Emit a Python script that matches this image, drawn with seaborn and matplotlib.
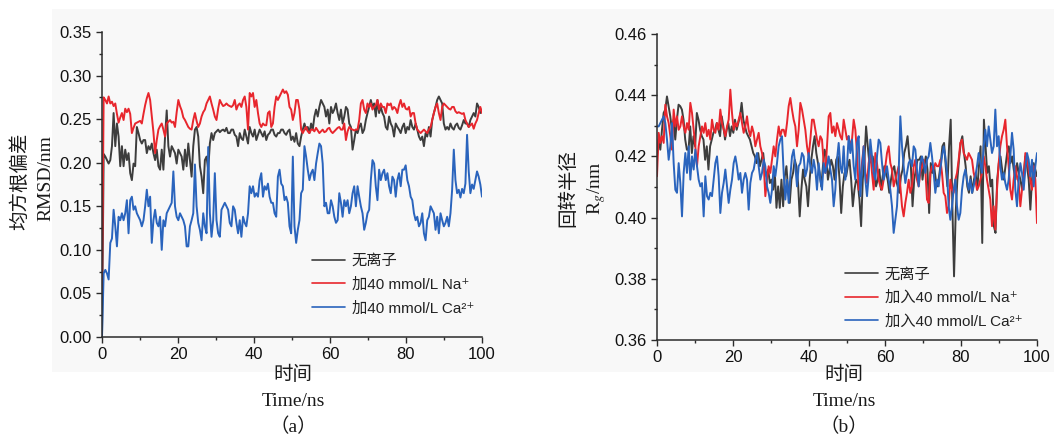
import numpy as np
import pandas as pd
import matplotlib
matplotlib.use("Agg")
import matplotlib.pyplot as plt
import seaborn as sns
from matplotlib.patches import Rectangle
from matplotlib.ticker import MultipleLocator, FormatStrFormatter

sns.set_style("ticks")
plt.rcParams["font.family"] = ["Liberation Sans", "DejaVu Sans", "Noto Sans CJK SC"]
plt.rcParams["mathtext.fontset"] = "stix"

# ---------------------------------------------------------------- data
labels_a = ["无离子", "加40 mmol/L Na⁺", "加40 mmol/L Ca²⁺"]
labels_b = ["无离子", "加入40 mmol/L Na⁺", "加入40 mmol/L Ca²⁺"]
line_colors = ["#3d3d3d", "#e8262d", "#2a64bd"]

x_ticks = [0, 20, 40, 60, 80, 100]

# RMSD (nm), sampled evenly over 0-100 ns
rmsd_none = [
    0.000,
    0.210, 0.207, 0.203, 0.199, 0.203, 0.219, 0.257, 0.219, 0.245, 0.230,
    0.196, 0.219, 0.196, 0.215, 0.203, 0.211, 0.188, 0.180, 0.199, 0.196,
    0.241, 0.234, 0.226, 0.222, 0.226, 0.226, 0.211, 0.219, 0.215, 0.222,
    0.211, 0.203, 0.215, 0.196, 0.192, 0.215, 0.192, 0.230, 0.260, 0.219,
    0.207, 0.219, 0.215, 0.211, 0.199, 0.215, 0.211, 0.207, 0.192, 0.215,
    0.196, 0.222, 0.203, 0.184, 0.219, 0.238, 0.241, 0.230, 0.196, 0.184,
    0.165, 0.203, 0.207, 0.192, 0.222, 0.234, 0.226, 0.234, 0.236, 0.238,
    0.235, 0.237, 0.238, 0.236, 0.240,
    0.234, 0.234, 0.238, 0.238, 0.232, 0.230, 0.219, 0.234, 0.228, 0.226,
    0.238, 0.230, 0.222, 0.241, 0.234, 0.230, 0.238, 0.226, 0.232, 0.238,
    0.234, 0.230, 0.236, 0.226, 0.232, 0.234, 0.238, 0.238, 0.232, 0.230,
    0.234, 0.234, 0.238, 0.238, 0.234, 0.232, 0.236, 0.238, 0.226, 0.230,
    0.224, 0.234, 0.222, 0.219, 0.230, 0.238, 0.245, 0.238, 0.241, 0.234,
    0.245, 0.238, 0.253, 0.261, 0.253, 0.264, 0.272, 0.268, 0.264, 0.253,
    0.261, 0.245, 0.264, 0.257, 0.261, 0.268, 0.257, 0.249, 0.261, 0.245,
    0.253, 0.264, 0.261, 0.245, 0.241, 0.215, 0.226,
    0.238, 0.234, 0.241, 0.245, 0.234, 0.238, 0.249, 0.257, 0.264, 0.272,
    0.264, 0.268, 0.253, 0.272, 0.257, 0.264, 0.257, 0.253, 0.241, 0.238,
    0.253, 0.245, 0.241, 0.230, 0.245, 0.241, 0.238, 0.234, 0.241, 0.245,
    0.234, 0.241, 0.238, 0.249, 0.241, 0.238, 0.245, 0.238, 0.230, 0.226,
    0.230, 0.219, 0.234, 0.230, 0.241, 0.230, 0.249, 0.257, 0.264, 0.272,
    0.276, 0.272, 0.268, 0.245, 0.238, 0.241, 0.238, 0.245, 0.240, 0.238,
    0.243, 0.245, 0.240, 0.238, 0.243, 0.249, 0.245, 0.245, 0.241, 0.249,
    0.253, 0.257, 0.253, 0.268, 0.264, 0.257, 0.261,
]

rmsd_na = [
    0.050,
    0.275, 0.272, 0.268, 0.276, 0.268, 0.270, 0.265, 0.268, 0.256, 0.246,
    0.252, 0.257, 0.249, 0.262, 0.258, 0.262, 0.256, 0.234, 0.240, 0.245,
    0.246, 0.247, 0.248, 0.245, 0.256, 0.266, 0.274, 0.280, 0.272, 0.253,
    0.235, 0.211, 0.226, 0.238, 0.242, 0.245, 0.238, 0.230, 0.245, 0.247,
    0.249, 0.246, 0.247, 0.241, 0.258, 0.272, 0.265, 0.260, 0.252, 0.249,
    0.245, 0.241, 0.239, 0.238, 0.249, 0.257, 0.248, 0.241, 0.245, 0.253,
    0.258, 0.261, 0.268, 0.272, 0.276, 0.268, 0.261, 0.253, 0.249, 0.262,
    0.272, 0.268, 0.265, 0.266, 0.268,
    0.266, 0.265, 0.264, 0.266, 0.272, 0.261, 0.266, 0.268, 0.264, 0.272,
    0.276, 0.264, 0.238, 0.280, 0.276, 0.280, 0.264, 0.272, 0.257, 0.245,
    0.241, 0.245, 0.243, 0.243, 0.257, 0.259, 0.241, 0.245, 0.264, 0.276,
    0.272, 0.276, 0.280, 0.284, 0.280, 0.282, 0.278, 0.264, 0.261, 0.249,
    0.257, 0.272, 0.272, 0.261, 0.238, 0.234, 0.238, 0.241, 0.236, 0.234,
    0.238, 0.238, 0.236, 0.240, 0.237, 0.234, 0.236, 0.238, 0.235, 0.236,
    0.239, 0.240, 0.236, 0.234, 0.236, 0.238, 0.240, 0.241, 0.238, 0.238,
    0.245, 0.226, 0.236, 0.241, 0.239, 0.238, 0.237,
    0.238, 0.238, 0.249, 0.268, 0.272, 0.261, 0.257, 0.268, 0.264, 0.268,
    0.261, 0.264, 0.266, 0.272, 0.261, 0.268, 0.264, 0.264, 0.257, 0.268,
    0.266, 0.268, 0.261, 0.264, 0.262, 0.257, 0.266, 0.272, 0.264, 0.268,
    0.262, 0.261, 0.264, 0.253, 0.257, 0.257, 0.245, 0.238, 0.236, 0.234,
    0.236, 0.238, 0.236, 0.234, 0.238, 0.241, 0.249, 0.257, 0.264, 0.268,
    0.257, 0.249, 0.264, 0.268, 0.266, 0.264, 0.262, 0.261, 0.264, 0.264,
    0.259, 0.257, 0.258, 0.257, 0.256, 0.257, 0.249, 0.245, 0.241, 0.243,
    0.245, 0.239, 0.245, 0.249, 0.257, 0.264, 0.257,
]

rmsd_ca = [
    0.000,
    0.073, 0.077, 0.073, 0.066, 0.108, 0.113, 0.146, 0.127, 0.104, 0.138,
    0.134, 0.142, 0.134, 0.142, 0.157, 0.119, 0.157, 0.161, 0.146, 0.150,
    0.142, 0.138, 0.134, 0.127, 0.134, 0.150, 0.169, 0.150, 0.161, 0.108,
    0.134, 0.146, 0.131, 0.127, 0.138, 0.100, 0.134, 0.127, 0.142, 0.146,
    0.150, 0.154, 0.190, 0.150, 0.138, 0.134, 0.142, 0.138, 0.134, 0.127,
    0.104, 0.104, 0.127, 0.134, 0.142, 0.198, 0.150, 0.131, 0.123, 0.111,
    0.142, 0.127, 0.119, 0.218, 0.142, 0.115, 0.134, 0.188, 0.134, 0.119,
    0.115, 0.146, 0.150, 0.154, 0.150,
    0.146, 0.131, 0.127, 0.150, 0.146, 0.131, 0.119, 0.134, 0.115, 0.138,
    0.131, 0.127, 0.142, 0.173, 0.165, 0.173, 0.161, 0.165, 0.161, 0.180,
    0.188, 0.161, 0.173, 0.169, 0.176, 0.161, 0.154, 0.154, 0.142, 0.138,
    0.184, 0.192, 0.176, 0.173, 0.157, 0.161, 0.154, 0.127, 0.119, 0.207,
    0.127, 0.108, 0.123, 0.134, 0.165, 0.169, 0.219, 0.207, 0.192, 0.180,
    0.188, 0.192, 0.180, 0.199, 0.211, 0.222, 0.219, 0.199, 0.150, 0.154,
    0.142, 0.142, 0.157, 0.150, 0.138, 0.131, 0.134, 0.165, 0.154, 0.138,
    0.157, 0.150, 0.157, 0.142, 0.150, 0.165, 0.173,
    0.150, 0.173, 0.161, 0.150, 0.142, 0.123, 0.131, 0.142, 0.146, 0.180,
    0.203, 0.199, 0.173, 0.157, 0.192, 0.180, 0.188, 0.192, 0.180, 0.188,
    0.173, 0.165, 0.184, 0.180, 0.161, 0.180, 0.188, 0.173, 0.192, 0.192,
    0.197, 0.180, 0.173, 0.161, 0.157, 0.142, 0.134, 0.138, 0.127, 0.131,
    0.142, 0.119, 0.111, 0.134, 0.138, 0.150, 0.146, 0.142, 0.123, 0.138,
    0.119, 0.142, 0.134, 0.127, 0.131, 0.138, 0.127, 0.142, 0.169, 0.215,
    0.180, 0.165, 0.169, 0.160, 0.170, 0.165, 0.176, 0.232, 0.190, 0.165,
    0.175, 0.170, 0.180, 0.190, 0.184, 0.175, 0.161,
]

# Radius of gyration (nm), sampled evenly over 0-100 ns
rg_none = [
    0.4200, 0.4255, 0.4222, 0.4287, 0.4342, 0.4353, 0.4396, 0.4364, 0.4331, 0.4287,
    0.4320, 0.4255, 0.4320, 0.4369, 0.4364, 0.4353, 0.4320, 0.4255, 0.4222, 0.4222,
    0.4298, 0.4211, 0.4266, 0.4233, 0.4342, 0.4320, 0.4287, 0.4266, 0.4255, 0.4189,
    0.4233, 0.4157, 0.4233, 0.4255, 0.4277, 0.4287, 0.4309, 0.4287, 0.4266, 0.4331,
    0.4298, 0.4255, 0.4287, 0.4309, 0.4266, 0.4298, 0.4277, 0.4320, 0.4287, 0.4309,
    0.4331, 0.4375, 0.4320, 0.4298, 0.4277, 0.4266, 0.4255, 0.4233, 0.4211, 0.4200,
    0.4178, 0.4211, 0.4168, 0.4189, 0.4211, 0.4157, 0.4135, 0.4157, 0.4113, 0.4124,
    0.4091, 0.4146, 0.4032, 0.4102, 0.4032, 0.4124,
    0.4037, 0.4135, 0.4168, 0.4091, 0.4048, 0.4124, 0.4146, 0.4189, 0.4168, 0.4113,
    0.4004, 0.4091, 0.4157, 0.4124, 0.4102, 0.4037, 0.4124, 0.4189, 0.4233, 0.4266,
    0.4211, 0.4178, 0.4146, 0.4102, 0.4168, 0.4222, 0.4200, 0.4124, 0.4157, 0.4189,
    0.4168, 0.4124, 0.4189, 0.4200, 0.4124, 0.4015, 0.4102, 0.4146, 0.4135, 0.4168,
    0.4189, 0.4124, 0.4037, 0.4091, 0.4124, 0.4113, 0.4059, 0.3972, 0.4124, 0.4189,
    0.4298, 0.4233, 0.4178, 0.4189, 0.4200, 0.4157, 0.4102, 0.4124, 0.4157, 0.4091,
    0.4135, 0.4168, 0.4146, 0.4124, 0.4081, 0.4124, 0.4157, 0.4168, 0.4124, 0.4102,
    0.4081, 0.4135, 0.4157, 0.4211, 0.4233, 0.4266, 0.4200, 0.4168,
    0.4037, 0.4124, 0.4157, 0.4189, 0.4189, 0.4200, 0.4124, 0.4168, 0.4200, 0.4157,
    0.4015, 0.4178, 0.4146, 0.4168, 0.4124, 0.4102, 0.4135, 0.4178, 0.4233, 0.4244,
    0.4168, 0.4102, 0.4233, 0.4320, 0.4037, 0.3808, 0.4015, 0.4124, 0.4189, 0.4244,
    0.4266, 0.4211, 0.4168, 0.4102, 0.4081, 0.4135, 0.4081, 0.4124, 0.4146, 0.4091,
    0.4168, 0.4233, 0.3917, 0.4320, 0.4233, 0.4146, 0.4168, 0.4102, 0.4124, 0.3972,
    0.3950, 0.4124, 0.4178, 0.4200, 0.4157, 0.4124, 0.4168, 0.4211, 0.4233, 0.4178,
    0.4200, 0.4157, 0.4124, 0.4178, 0.4146, 0.4124, 0.4091, 0.4146, 0.4200, 0.4168,
    0.4124, 0.4026, 0.4124, 0.4178, 0.4157, 0.4135,
]

rg_na = [
    0.4135, 0.4277, 0.4244, 0.4266, 0.4244, 0.4369, 0.4331, 0.4309, 0.4266, 0.4222,
    0.4353, 0.4298, 0.4331, 0.4287, 0.4298, 0.4331, 0.4298, 0.4277, 0.4309, 0.4287,
    0.4375, 0.4342, 0.4287, 0.4233, 0.4168, 0.4233, 0.4266, 0.4298, 0.4277, 0.4309,
    0.4266, 0.4287, 0.4255, 0.4320, 0.4287, 0.4277, 0.4309, 0.4287, 0.4353, 0.4309,
    0.4287, 0.4266, 0.4298, 0.4320, 0.4418, 0.4342, 0.4287, 0.4309, 0.4298, 0.4320,
    0.4342, 0.4309, 0.4277, 0.4298, 0.4331, 0.4287, 0.4266, 0.4298, 0.4277, 0.4233,
    0.4255, 0.4277, 0.4233, 0.4211, 0.4178, 0.4070, 0.4124, 0.4168, 0.4146, 0.4189,
    0.4233, 0.4200, 0.4255, 0.4298, 0.4266, 0.4287,
    0.4287, 0.4266, 0.4309, 0.4364, 0.4391, 0.4353, 0.4320, 0.4298, 0.4233, 0.4287,
    0.4375, 0.4353, 0.4320, 0.4287, 0.4233, 0.4200, 0.4255, 0.4320, 0.4320, 0.4287,
    0.4255, 0.4233, 0.4266, 0.4255, 0.4178, 0.4146, 0.4233, 0.4331, 0.4342, 0.4277,
    0.4298, 0.4266, 0.4309, 0.4287, 0.4266, 0.4255, 0.4320, 0.4287, 0.4255, 0.4266,
    0.4233, 0.4255, 0.4320, 0.4287, 0.4211, 0.4091, 0.4124, 0.4178, 0.4233, 0.4146,
    0.4113, 0.4178, 0.4211, 0.4146, 0.4091, 0.4211, 0.4178, 0.4124, 0.4102, 0.4091,
    0.4124, 0.4168, 0.4211, 0.4233, 0.4178, 0.4157, 0.4102, 0.4124, 0.4146, 0.4168,
    0.4102, 0.4037, 0.4004, 0.4048, 0.4081, 0.4124, 0.4081, 0.4102,
    0.4168, 0.4189, 0.4124, 0.4102, 0.4146, 0.4168, 0.4189, 0.4157, 0.4059, 0.4048,
    0.4146, 0.4168, 0.4157, 0.4178, 0.4168, 0.4168, 0.4189, 0.4146, 0.4081, 0.4070,
    0.4015, 0.4037, 0.4124, 0.4091, 0.4081, 0.4124, 0.4146, 0.4189, 0.4244, 0.4255,
    0.4211, 0.4200, 0.4189, 0.4211, 0.4200, 0.4189, 0.4146, 0.4124, 0.4091, 0.4102,
    0.4124, 0.4146, 0.4200, 0.4168, 0.4124, 0.4091, 0.4059, 0.3972, 0.4037, 0.3961,
    0.4091, 0.4178, 0.4233, 0.4266, 0.4287, 0.4320, 0.4233, 0.4168, 0.4091, 0.4059,
    0.4124, 0.4168, 0.4135, 0.4113, 0.4037, 0.4091, 0.4124, 0.4211, 0.4189, 0.4157,
    0.4124, 0.4091, 0.4168, 0.4124, 0.3982,
]

rg_ca = [
    0.4298, 0.4298, 0.4309, 0.4320, 0.4331, 0.4309, 0.4255, 0.4189, 0.4233, 0.4309,
    0.4178, 0.4091, 0.4081, 0.4178, 0.4113, 0.4004, 0.4146, 0.4211, 0.4146, 0.4233,
    0.4124, 0.4200, 0.4157, 0.4222, 0.4168, 0.4124, 0.4102, 0.4113, 0.4004, 0.4135,
    0.4070, 0.4059, 0.4081, 0.4070, 0.4124, 0.4178, 0.4200, 0.4135, 0.4015, 0.4081,
    0.4113, 0.4157, 0.4102, 0.4048, 0.4091, 0.4124, 0.4178, 0.4200, 0.4168, 0.4124,
    0.4146, 0.4081, 0.4124, 0.4146, 0.4124, 0.4026, 0.4113, 0.4146, 0.4157, 0.4189,
    0.4211, 0.4168, 0.4124, 0.4146, 0.4189, 0.4168, 0.4102, 0.4081, 0.4048, 0.4091,
    0.4168, 0.4135, 0.4178, 0.4233, 0.4255, 0.4266,
    0.4146, 0.4059, 0.4124, 0.4048, 0.4135, 0.4200, 0.4222, 0.4168, 0.4102, 0.4168,
    0.4178, 0.4211, 0.4200, 0.4135, 0.4157, 0.4211, 0.4168, 0.4146, 0.4189, 0.4157,
    0.4091, 0.4178, 0.4124, 0.4091, 0.4178, 0.4146, 0.4168, 0.4200, 0.4157, 0.4124,
    0.4037, 0.4091, 0.4189, 0.4244, 0.4168, 0.4146, 0.4233, 0.4124, 0.4168, 0.4266,
    0.4211, 0.4255, 0.4168, 0.4124, 0.4244, 0.4266, 0.4070, 0.4157, 0.4233, 0.4124,
    0.4070, 0.4135, 0.4255, 0.4200, 0.4146, 0.4124, 0.4200, 0.4255, 0.4244, 0.4178,
    0.4124, 0.4146, 0.4168, 0.4124, 0.4091, 0.4037, 0.3950, 0.3993, 0.4037, 0.4146,
    0.4331, 0.4233, 0.4168, 0.4113, 0.4146, 0.4178, 0.4189, 0.4168,
    0.4233, 0.4222, 0.4157, 0.4102, 0.4178, 0.4200, 0.4178, 0.4146, 0.4189, 0.4200,
    0.4244, 0.4200, 0.4146, 0.4081, 0.4124, 0.4102, 0.4157, 0.4200, 0.4233, 0.4200,
    0.4146, 0.4037, 0.3993, 0.4037, 0.4091, 0.4124, 0.4037, 0.3993, 0.4015, 0.4091,
    0.4135, 0.4157, 0.4124, 0.4091, 0.4124, 0.4081, 0.4102, 0.4135, 0.4168, 0.4211,
    0.4178, 0.4146, 0.4233, 0.4287, 0.4233, 0.4298, 0.4255, 0.4211, 0.4233, 0.4353,
    0.4233, 0.4266, 0.4168, 0.4124, 0.4146, 0.4113, 0.4091, 0.4124, 0.4200, 0.4277,
    0.4222, 0.4091, 0.4037, 0.4124, 0.4178, 0.4146, 0.4091, 0.4157, 0.4211, 0.4189,
    0.4135, 0.4189, 0.4102, 0.4168, 0.4211,
]


def long_frame(series, labels):
    """Stack equally spaced 0-100 ns traces into one long table for seaborn."""
    parts = []
    for vals, lab in zip(series, labels):
        t = np.linspace(0, 100, len(vals))
        parts.append(pd.DataFrame({"time": t, "value": vals, "group": lab}))
    return pd.concat(parts, ignore_index=True)


df_a = long_frame([rmsd_none, rmsd_na, rmsd_ca], labels_a)
df_b = long_frame([rg_none, rg_na, rg_ca], labels_b)

# ---------------------------------------------------------------- figure
W, H = 1054, 437
fig = plt.figure(figsize=(W / 100, H / 100), dpi=100)
fig.patch.set_facecolor("white")

# light panel backdrop
fig.add_artist(Rectangle((52 / W, 1 - 372 / H), (1054 - 52) / W, (372 - 9) / H,
                         transform=fig.transFigure, facecolor="#f8f8f8",
                         edgecolor="none", zorder=-10))

ax_a = fig.add_axes([102 / W, 1 - 337 / H, 380 / W, 305 / H])
ax_b = fig.add_axes([657 / W, 1 - 340 / H, 380 / W, 306 / H])

cjk = ["Noto Sans CJK SC"]
serif = ["Liberation Serif", "Noto Sans CJK SC"]
legend_font = {"family": ["Liberation Sans", "DejaVu Sans", "Noto Sans CJK SC"], "size": 11}


def style_axes(ax, ylim, ymajor, yminor):
    ax.set_facecolor("none")
    ax.set_xlim(0, 100)
    ax.set_ylim(*ylim)
    ax.set_xticks(x_ticks)
    ax.xaxis.set_minor_locator(MultipleLocator(10))
    ax.yaxis.set_major_locator(MultipleLocator(ymajor))
    ax.yaxis.set_minor_locator(MultipleLocator(yminor))
    ax.yaxis.set_major_formatter(FormatStrFormatter("%.2f"))
    for side in ("top", "right"):
        ax.spines[side].set_visible(False)
    for side in ("left", "bottom"):
        ax.spines[side].set_linewidth(1.1)
        ax.spines[side].set_color("#2b2b2b")
    ax.tick_params(which="major", direction="out", length=4.5, width=1.0,
                   color="#2b2b2b", labelsize=12, labelcolor="#111111", pad=3)
    ax.tick_params(which="minor", direction="out", length=2.5, width=1.0,
                   color="#2b2b2b")
    ax.set_xlabel("")
    ax.set_ylabel("")


for ax, df, labels in ((ax_a, df_a, labels_a), (ax_b, df_b, labels_b)):
    sns.lineplot(data=df, x="time", y="value", hue="group", hue_order=labels,
                 palette=line_colors, estimator=None, sort=False,
                 linewidth=1.4, ax=ax)

style_axes(ax_a, (0, 0.35), 0.05, 0.025)
style_axes(ax_b, (0.36, 0.46), 0.02, 0.01)

for ax, anchor in ((ax_a, (0.553, 0.272)), (ax_b, (0.495, 0.238))):
    leg = ax.legend(loc="upper left", bbox_to_anchor=anchor, frameon=False,
                    prop=legend_font, handlelength=2.15, handletextpad=0.45,
                    labelspacing=0.62, borderpad=0, borderaxespad=0)
    for h in leg.get_lines():
        h.set_linewidth(1.2)
    for t in leg.get_texts():
        t.set_color("#222222")

# axis titles
def ftext(x, y, s, family, size=14, **kw):
    fig.text(x / W, 1 - y / H, s, ha="center", va="center",
             family=family, fontsize=size, color="#1a1a1a", **kw)

ftext(20, 181, "均方根偏差", cjk, 14, rotation=90)
ftext(46, 178, "RMSD/nm", serif, 14, rotation=90)
ftext(568, 188, "回转半径", cjk, 14, rotation=90)
ftext(597, 188, r"R$_{g}$/nm", serif, 14, rotation=90)

for cx, tag in ((293, "（a）"), (844, "（b）")):
    ftext(cx, 375, "时间", cjk, 14)
    ftext(cx, 401, "Time/ns", serif, 14)
    ftext(cx, 427, tag, serif, 14)

fig.savefig("out.png", dpi=100, facecolor="white")
